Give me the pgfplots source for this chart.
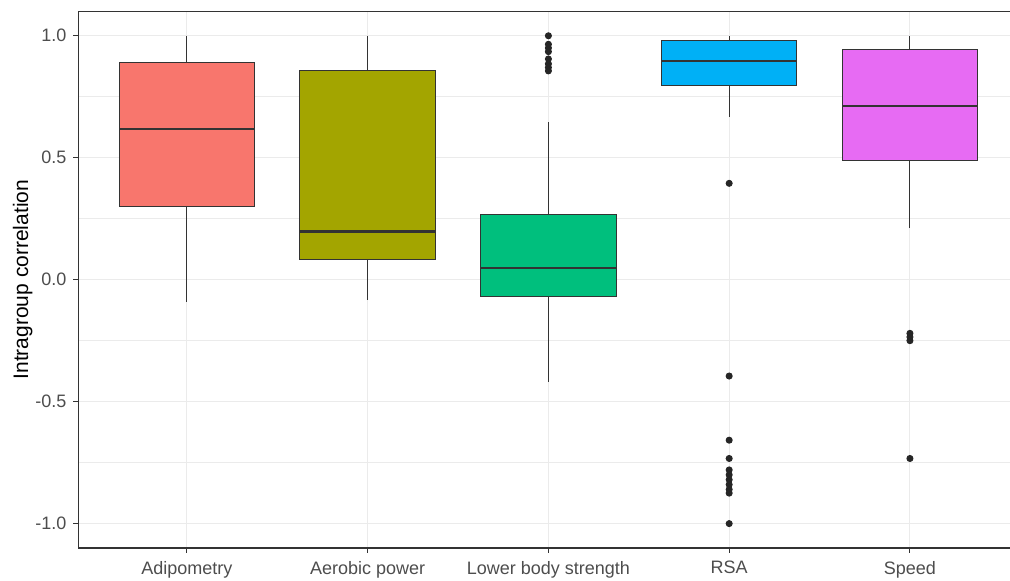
\documentclass[border=0pt]{standalone}
\usepackage{fontspec}
\setmainfont{Liberation Sans}
\usepackage{pgfplots}
\pgfplotsset{compat=1.18}
\usepgfplotslibrary{statistics}
\definecolor{gA}{HTML}{F8766D}
\definecolor{gB}{HTML}{A3A500}
\definecolor{gC}{HTML}{00BF7D}
\definecolor{gD}{HTML}{00B0F6}
\definecolor{gE}{HTML}{E76BF3}
\definecolor{gray92}{HTML}{EBEBEB}
\definecolor{gray20}{HTML}{333333}
\definecolor{gray30}{HTML}{4D4D4D}
\begin{document}
\begin{tikzpicture}
\path[use as bounding box] (-39.2pt,-16.5pt) rectangle (465.8pt,274pt);
\begin{axis}[
  scale only axis, width=470pt, height=268.3pt,
  xmin=0.4, xmax=5.6, ymin=-1.1, ymax=1.1,
  xtick={1,2,3,4,5},
  xticklabels={Adipometry,Aerobic power,Lower body strength,RSA,Speed},
  ytick={-1,-0.5,0,0.5,1},
  yticklabels={-1.0,-0.5,0.0,0.5,1.0},
  minor ytick={-0.75,-0.25,0.25,0.75},
  xtick pos=lower, ytick pos=left,
  xmajorgrids, ymajorgrids, yminorgrids,
  major grid style={draw=gray92, line width=0.55pt},
  minor grid style={draw=gray92, line width=0.3pt},
  axis line style={draw=gray20, line width=0.55pt},
  tick align=outside, major tick length=2.5pt, minor tick length=0pt,
  tick style={draw=gray20, line width=0.5pt},
  ticklabel style={font=\fontsize{9}{10}\selectfont, text=gray30},
  xticklabel style={yshift=-0.6pt},
  ylabel={Intragroup correlation},
  ylabel style={font=\fontsize{10.5}{12}\selectfont, yshift=-5.5pt},
  boxplot/draw direction=y,
  boxplot/whisker extend=0,
  every boxplot/.style={draw=gray20, line width=0.5pt},
  boxplot/every median/.style={draw=gray20, line width=1.2pt},
  boxplot/every whisker/.style={draw=gray20, line width=0.5pt},
]
\addplot+[boxplot prepared={lower whisker=-0.09, lower quartile=0.30, median=0.617, upper quartile=0.889, upper whisker=1.0, draw position=1, box extend=0.75},
  draw=gray20, fill=gA, solid, mark=*, mark size=1.5pt, mark options={fill=black!85, draw=black!85}]
  coordinates {};
\addplot+[boxplot prepared={lower whisker=-0.082, lower quartile=0.082, median=0.198, upper quartile=0.858, upper whisker=1.0, draw position=2, box extend=0.75},
  draw=gray20, fill=gB, solid, mark=*, mark size=1.5pt, mark options={fill=black!85, draw=black!85}]
  coordinates {};
\addplot+[boxplot prepared={lower whisker=-0.42, lower quartile=-0.07, median=0.049, upper quartile=0.267, upper whisker=0.646, draw position=3, box extend=0.75},
  draw=gray20, fill=gC, solid, mark=*, mark size=1.5pt, mark options={fill=black!85, draw=black!85}]
  table[row sep=\\, y index=0] {1.0\\ 0.965\\ 0.95\\ 0.935\\ 0.905\\ 0.885\\ 0.87\\ 0.856\\};
\addplot+[boxplot prepared={lower whisker=0.667, lower quartile=0.798, median=0.897, upper quartile=0.98, upper whisker=1.0, draw position=4, box extend=0.75},
  draw=gray20, fill=gD, solid, mark=*, mark size=1.5pt, mark options={fill=black!85, draw=black!85}]
  table[row sep=\\, y index=0] {0.395\\ -0.395\\ -0.658\\ -0.733\\ -0.78\\ -0.80\\ -0.82\\ -0.84\\ -0.86\\ -0.875\\ -1.0\\};
\addplot+[boxplot prepared={lower whisker=0.21, lower quartile=0.49, median=0.712, upper quartile=0.942, upper whisker=1.0, draw position=5, box extend=0.75},
  draw=gray20, fill=gE, solid, mark=*, mark size=1.5pt, mark options={fill=black!85, draw=black!85}]
  table[row sep=\\, y index=0] {-0.22\\ -0.235\\ -0.25\\ -0.733\\};
\end{axis}
\end{tikzpicture}
\end{document}
